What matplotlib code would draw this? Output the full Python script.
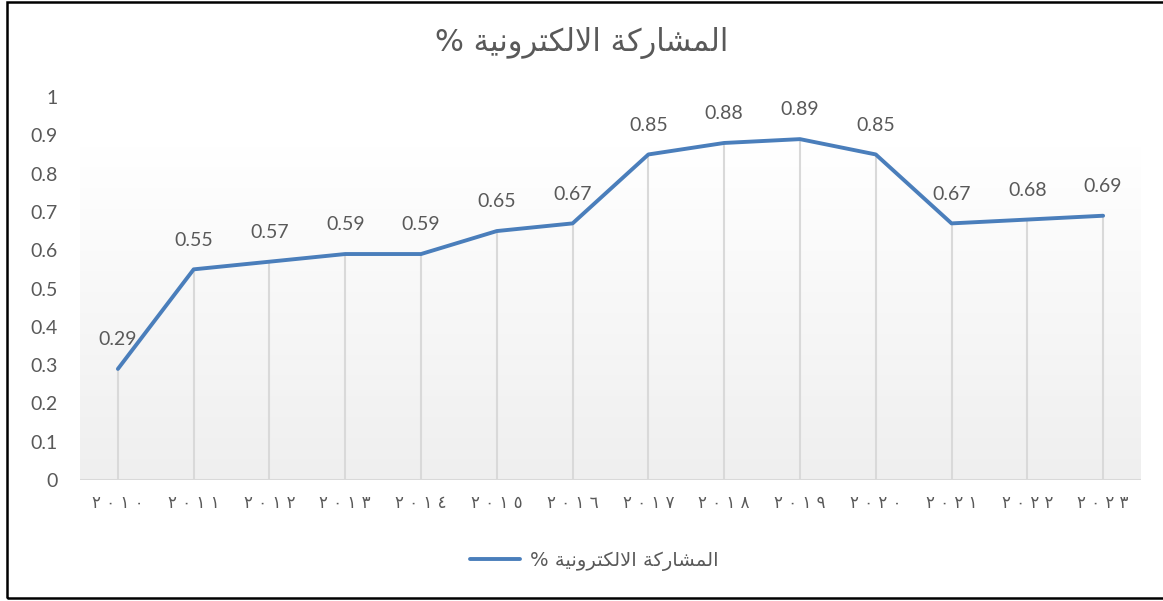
import numpy as np
import matplotlib.pyplot as plt
import matplotlib.patches as patches

# data
years = [2010, 2011, 2012, 2013, 2014, 2015, 2016, 2017, 2018, 2019, 2020, 2021, 2022, 2023]
values = [0.29, 0.55, 0.57, 0.59, 0.59, 0.65, 0.67, 0.85, 0.88, 0.89, 0.85, 0.67, 0.68, 0.69]
y_ticks = [0, 0.1, 0.2, 0.3, 0.4, 0.5, 0.6, 0.7, 0.8, 0.9, 1]

# arabic text pre-shaped (presentation forms, visual order) since matplotlib has no bidi
word1 = '\uFE8D\uFEDF\uFEE4\uFEB8\uFE8E\uFEAD\uFEDB\uFE94'            # المشاركة
word2 = '\uFE8D\uFEFB\uFEDF\uFEDC\uFE98\uFEAE\uFEED\uFEE7\uFEF4\uFE94'  # الالكترونية
title_txt = '% ' + word2[::-1] + ' ' + word1[::-1]

arabic_digits = str.maketrans('0123456789', '\u0660\u0661\u0662\u0663\u0664\u0665\u0666\u0667\u0668\u0669')
x_labels = [' '.join(str(y).translate(arabic_digits)) for y in years]

gray = '#595959'
blue = '#4A7EBB'
fam = ['Lato', 'DejaVu Sans']

fig = plt.figure(figsize=(11.63, 6.01), dpi=100)
ax = fig.add_axes([80 / 1163, 1 - 480 / 601, (1141 - 80) / 1163, (480 - 97) / 601])

x = np.arange(len(years))
ax.set_xlim(-0.5, len(years) - 0.5)
ax.set_ylim(0, 1)

# soft gradient in the plot area
grad = np.linspace(0, 1, 256).reshape(-1, 1)
ax.imshow(grad, extent=[-0.5, len(years) - 0.5, 0, 0.87], aspect='auto',
          cmap=plt.matplotlib.colors.LinearSegmentedColormap.from_list('g', ['#efefef', '#ffffff']),
          origin='lower', zorder=0)

# drop lines
ax.vlines(x, 0, values, color='#d9d9d9', lw=1.5, zorder=1)
ax.axhline(0, color='#d9d9d9', lw=1.5, zorder=1)

line, = ax.plot(x, values, color=blue, lw=2.8, solid_capstyle='round', zorder=3)

for xi, v in zip(x, values):
    ax.annotate(f'{v:g}', (xi, v), xytext=(0, 15), textcoords='offset points',
                ha='center', va='bottom', fontsize=14, color=gray, family=fam)

ax.set_yticks(y_ticks)
ax.set_yticklabels([f'{t:g}' for t in y_ticks], fontsize=14, color=gray, family=fam)
ax.set_xticks(x)
ax.set_xticklabels(x_labels, fontsize=12, color=gray, family='DejaVu Sans')
ax.tick_params(axis='both', length=0)
ax.tick_params(axis='y', pad=16)
ax.tick_params(axis='x', pad=10)
for s in ax.spines.values():
    s.set_visible(False)

fig.text(0.5, 1 - 43 / 601, title_txt, ha='center', va='center', fontsize=22,
         color=gray, family='DejaVu Sans')

leg = fig.legend([line], [title_txt], loc='center', bbox_to_anchor=(594 / 1163, 1 - 561 / 601),
                 frameon=False, prop={'family': 'DejaVu Sans', 'size': 14},
                 handlelength=2.6, handletextpad=0.5)
for t in leg.get_texts():
    t.set_color(gray)

# outer frame
fig.add_artist(patches.Rectangle((6.5 / 1163, 3 / 601), 1.0, 1 - 4.5 / 601,
                                 transform=fig.transFigure, fill=False,
                                 edgecolor='black', lw=1.8))

fig.savefig('out.png', dpi=100)
